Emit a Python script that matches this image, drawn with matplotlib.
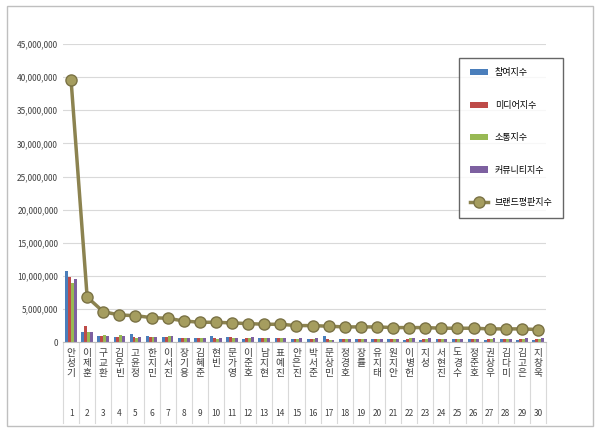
import matplotlib
matplotlib.use("Agg")
import matplotlib.pyplot as plt
import numpy as np
from matplotlib.patches import Rectangle

plt.rcParams['font.family'] = ['Noto Sans CJK KR', 'DejaVu Sans']

names = ["안성기","이제훈","구교환","김우빈","고윤정","한지민","이서진","장기용","김혜준","현빈",
         "문가영","이준호","남지현","표예진","안은진","박서준","문상민","정경호","장률","유지태",
         "원지안","이병헌","지성","서현진","도경수","정준호","권상우","김다미","김고은","지창욱"]
participation = [10.7,1.5,1.0,0.8,1.2,0.9,0.8,0.7,0.7,1.0,0.8,0.5,0.6,0.6,0.5,0.5,0.9,0.5,0.5,0.4,0.5,0.3,0.3,0.4,0.4,0.4,0.3,0.4,0.3,0.3]
media = [9.9,2.4,1.0,0.8,0.8,0.8,0.8,0.7,0.7,0.6,0.8,0.6,0.6,0.6,0.5,0.5,0.5,0.5,0.5,0.5,0.5,0.4,0.4,0.4,0.4,0.4,0.4,0.4,0.4,0.4]
communication = [9.0,1.5,1.1,1.1,0.7,0.8,0.9,0.7,0.7,0.5,0.6,0.7,0.6,0.6,0.5,0.5,0.3,0.5,0.5,0.5,0.5,0.6,0.5,0.5,0.5,0.5,0.5,0.4,0.5,0.5]
community = [9.6,1.5,1.0,1.0,0.8,0.8,0.9,0.7,0.7,0.6,0.6,0.8,0.6,0.6,0.6,0.6,0.3,0.5,0.5,0.5,0.5,0.7,0.6,0.5,0.5,0.5,0.6,0.5,0.6,0.6]
brand = [39.6,6.8,4.6,4.1,4.0,3.7,3.6,3.2,3.0,3.0,2.9,2.8,2.7,2.7,2.5,2.5,2.4,2.3,2.3,2.3,2.2,2.2,2.2,2.1,2.1,2.1,2.0,2.0,2.0,1.9]
series_labels = ["참여지수","미디어지수","소통지수","커뮤니티지수","브랜드평판지수"]
colors = ["#4a7ebb","#be4b48","#98b954","#7d60a0"]

fig = plt.figure(figsize=(6,4.32), dpi=100)
fig.patches.append(Rectangle((0.012,0.015),0.976,0.97,transform=fig.transFigure,fill=False,ec="#bfbfbf",lw=1))
ax = fig.add_axes([0.105,0.208,0.805,0.69])
x = np.arange(1,31)
w = 0.18
handles = []
for i,(vals,c) in enumerate(zip([participation,media,communication,community],colors)):
    handles.append(ax.bar(x+(i-1.5)*w, np.array(vals)*1e6, w, color=c, label=series_labels[i], zorder=2))
line, = ax.plot(x, np.array(brand)*1e6, '-o', color="#8c8350", mfc="#a59d5f", mec="#7a7245", ms=8, lw=2.5, label=series_labels[4], zorder=3)
handles.append(line)
ax.set_xlim(0.5,30.5)
ax.set_ylim(0,45e6)
ax.set_yticks(np.arange(0,46e6,5e6))
ax.set_yticklabels([f"{int(v):,}" for v in np.arange(0,46e6,5e6)], fontsize=6)
ax.yaxis.grid(True, color="#d9d9d9", lw=0.8, zorder=0)
for s in ["top","right","left"]:
    ax.spines[s].set_visible(False)
ax.spines["bottom"].set_color("#bfbfbf")
ax.tick_params(axis='y', length=0, colors="#404040")
ax.set_xticks(x)
ax.set_xticklabels(["\n".join(n) for n in names], fontsize=7, color="#404040", va="top", linespacing=1.0)
ax.tick_params(axis='x', length=0, pad=4)
for i in x:
    ax.text(i, -0.24, str(i), transform=ax.get_xaxis_transform(), ha="center", va="center", fontsize=6, color="#404040")
for b in np.arange(0.5,31,1):
    ax.plot([b,b],[0,-0.27], transform=ax.get_xaxis_transform(), color="#d9d9d9", lw=0.8, clip_on=False)
leg = ax.legend(handles=handles, labels=series_labels, loc="upper left", bbox_to_anchor=(0.81,0.97), fontsize=6.5,
                frameon=True, fancybox=False, edgecolor="#404040", labelspacing=2.6, borderpad=1.2, handlelength=2)
fig.savefig("out.png", dpi=100)
